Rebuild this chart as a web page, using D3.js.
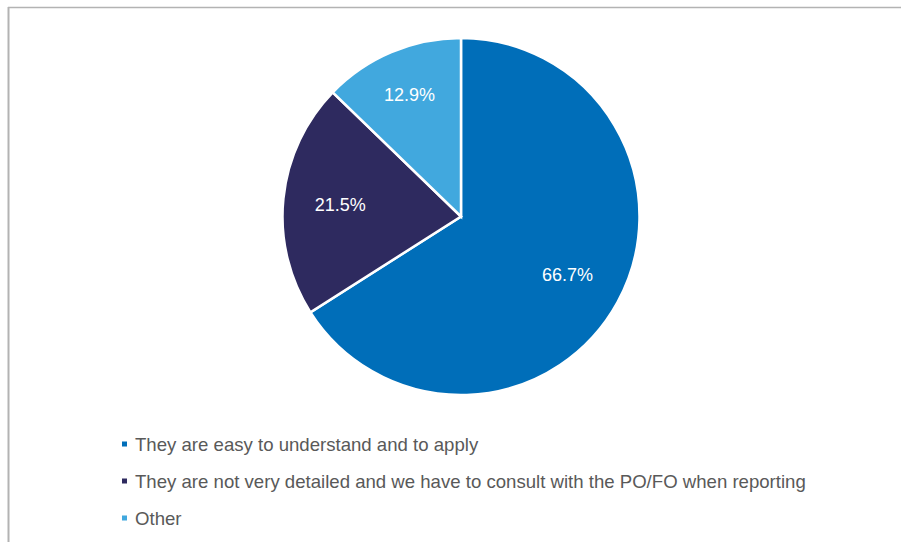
<!DOCTYPE html>
<html>
<head>
<meta charset="utf-8">
<script src="https://cdn.jsdelivr.net/npm/d3@7"></script>
<style>
  html, body { margin: 0; padding: 0; background: #fff; }
  svg { display: block; }
</style>
</head>
<body>
<svg id="chart" width="901" height="542"></svg>
<script>
// Survey answers and their shares (%)
const categories = [
  "They are easy to understand and to apply",
  "They are not very detailed and we have to consult with the PO/FO when reporting",
  "Other"
];
const values = [66.7, 21.5, 12.9];
const colors = ["#006EB9", "#2E2A5F", "#41A8DE"];

const svg = d3.select("#chart");
const W = 901, H = 542;

// Frame lines along the top and left edges
svg.append("line")
  .attr("x1", 8).attr("y1", 7.5).attr("x2", W).attr("y2", 7.5)
  .attr("stroke", "#b3b3b3").attr("stroke-width", 1.5);
svg.append("line")
  .attr("x1", 8.5).attr("y1", 7).attr("x2", 8.5).attr("y2", H)
  .attr("stroke", "#b3b3b3").attr("stroke-width", 2);

const cx = 461, cy = 216.5, r = 178.5;

const data = categories.map((c, i) => ({ name: c, value: values[i], color: colors[i] }));

const pie = d3.pie().sort(null).value(d => d.value);
const arc = d3.arc().innerRadius(0).outerRadius(r);
// narrow slices get their label pushed a little further out
const labelPos = d => {
  const k = (d.endAngle - d.startAngle) < 1 ? 0.74 : 0.68;
  return d3.arc().innerRadius(r * k).outerRadius(r * k).centroid(d);
};

const g = svg.append("g").attr("transform", `translate(${cx},${cy})`);
const arcs = pie(data);

g.selectAll("path.slice")
  .data(arcs)
  .join("path")
  .attr("class", "slice")
  .attr("d", arc)
  .attr("fill", d => d.data.color)
  .attr("stroke", "#fff")
  .attr("stroke-width", 2.5)
  .attr("stroke-linejoin", "miter");

g.selectAll("text.lbl")
  .data(arcs)
  .join("text")
  .attr("class", "lbl")
  .attr("transform", d => `translate(${labelPos(d)})`)
  .attr("text-anchor", "middle")
  .attr("dy", "0.36em")
  .attr("fill", "#fff")
  .style("font-family", "Arial, 'Liberation Sans', sans-serif")
  .style("font-size", "18px")
  .text(d => d.data.value.toFixed(1) + "%");

// Legend
const legend = svg.append("g").attr("transform", "translate(122,444)");
const rowH = 37;
const items = legend.selectAll("g.item")
  .data(data)
  .join("g")
  .attr("class", "item")
  .attr("transform", (d, i) => `translate(0,${i * rowH})`);

items.append("rect")
  .attr("x", 0).attr("y", -2.5)
  .attr("width", 5).attr("height", 5)
  .attr("fill", d => d.color);

items.append("text")
  .attr("x", 13)
  .attr("y", 0)
  .attr("dy", "0.35em")
  .attr("fill", "#595959")
  .style("font-family", "Arial, 'Liberation Sans', sans-serif")
  .style("font-size", "18.6px")
  .text(d => d.name);
</script>
</body>
</html>
